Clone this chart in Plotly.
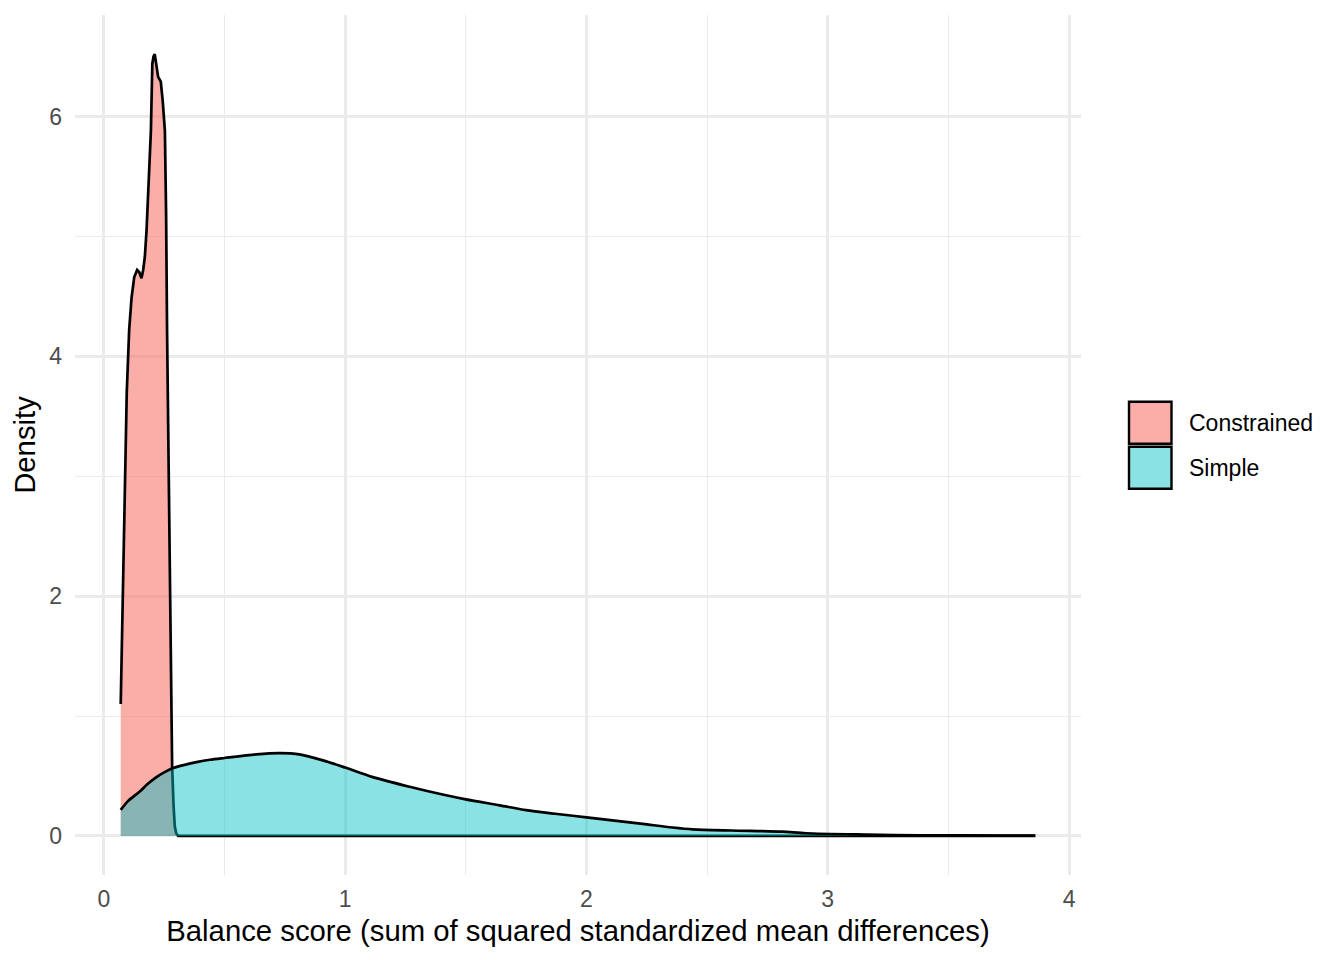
import plotly.graph_objects as go

# density curves (x = balance score, y = density)
constrained_x = [0.070, 0.074, 0.079, 0.087, 0.095, 0.105, 0.115, 0.126, 0.138, 0.147,
                 0.156, 0.163, 0.170, 0.177, 0.184, 0.195, 0.201, 0.206, 0.211, 0.216,
                 0.225, 0.236, 0.244, 0.253, 0.258, 0.262, 0.266, 0.270, 0.274, 0.278,
                 0.283, 0.289, 0.294, 0.300, 0.308, 0.320, 1.0, 2.0, 3.0, 3.86]
constrained_y = [1.10, 1.55, 1.97, 3.00, 3.70, 4.22, 4.49, 4.66, 4.72, 4.70,
                 4.65, 4.72, 4.83, 5.05, 5.33, 5.88, 6.44, 6.50, 6.52, 6.45,
                 6.33, 6.29, 6.13, 5.88, 5.20, 4.22, 3.60, 3.00, 2.00, 1.30,
                 0.58, 0.25, 0.08, 0.02, 0.0, 0.0, 0.0, 0.0, 0.0, 0.0]

simple_x = [0.07, 0.10, 0.149, 0.18, 0.218, 0.25, 0.28, 0.33, 0.384, 0.44, 0.5, 0.632, 0.729,
            0.81, 0.908, 1.0, 1.115, 1.267, 1.404, 1.5, 1.64, 1.75, 1.87, 2.0,
            2.233, 2.357, 2.44, 2.6, 2.81, 2.91, 3.16, 3.38, 3.72, 3.86]
simple_y = [0.217, 0.29, 0.37, 0.43, 0.49, 0.53, 0.56, 0.59, 0.615, 0.635, 0.65, 0.68, 0.69,
            0.68, 0.63, 0.57, 0.49, 0.41, 0.345, 0.305, 0.255, 0.215, 0.185, 0.155,
            0.10, 0.07, 0.055, 0.045, 0.036, 0.022, 0.011, 0.005, 0.003, 0.002]

groups = ["Constrained", "Simple"]
fills = ["rgba(248,118,109,0.6)", "rgba(0,191,196,0.46)"]
shapes = ["linear", "spline"]

FONT = "Liberation Sans, Arial, Helvetica, sans-serif"
GRID = "#EBEBEB"

# page body has an 8px margin, so the figure sits 8px in from the window edge
OFF = 8
W, H = 1344, 960
# panel in window pixels: x 75..1081, y 14.5..875
ML, MT = 75 - OFF, 14.5 - OFF
PW, PH = 1006, 860.5
MR = W - ML - PW
MB = H - MT - PH

fig = go.Figure()
for i, (xs, ys) in enumerate([(constrained_x, constrained_y), (simple_x, simple_y)]):
    fig.add_trace(go.Scatter(x=xs, y=ys, name=groups[i], mode="lines", fill="tozeroy",
                             fillcolor=fills[i],
                             line=dict(color="black", width=2.7, shape=shapes[i], smoothing=0.8),
                             showlegend=False, hoverinfo="skip"))

# ggplot-style 5% expansion
all_x = constrained_x + simple_x
all_y = constrained_y + simple_y
xspan = max(all_x) - min(all_x)
yspan = max(all_y) - min(all_y)
xr = [min(all_x) - 0.05 * xspan, max(all_x) + 0.05 * xspan]
yr = [min(all_y) - 0.05 * yspan, max(all_y) + 0.05 * yspan]

# legend drawn by hand so the keys get ggplot's big boxes (window px -> paper)
def px_x(p):
    return (p - 75) / PW

def px_y(p):
    return (875 - p) / PH

key_top = [401.5, 446.5]
for i, name in enumerate(groups):
    fig.add_shape(type="rect", xref="paper", yref="paper",
                  x0=px_x(1129), x1=px_x(1171.5),
                  y0=px_y(key_top[i]), y1=px_y(key_top[i] + 42),
                  fillcolor=fills[i], line=dict(color="black", width=2.4))
    fig.add_annotation(xref="paper", yref="paper", x=px_x(1187),
                       y=px_y(key_top[i] + 21), text=name, showarrow=False,
                       xanchor="left", yanchor="middle",
                       font=dict(family=FONT, size=23, color="black"))

fig.update_xaxes(range=xr, dtick=1, tick0=0, showgrid=True, gridcolor=GRID, gridwidth=2.6,
                 zeroline=False, showline=False, ticks="",
                 tickfont=dict(family=FONT, size=23, color="#4D4D4D"),
                 ticklabelstandoff=8,
                 minor=dict(dtick=0.5, tick0=0, showgrid=True, gridcolor=GRID, gridwidth=1.4),
                 title=dict(text="Balance score (sum of squared standardized mean differences)",
                            font=dict(family=FONT, size=29.3, color="black"), standoff=9))
fig.update_yaxes(range=yr, dtick=2, tick0=0, showgrid=True, gridcolor=GRID, gridwidth=2.6,
                 zeroline=False, showline=False, ticks="",
                 tickfont=dict(family=FONT, size=23, color="#4D4D4D"),
                 ticklabelstandoff=12,
                 minor=dict(dtick=1, tick0=0, showgrid=True, gridcolor=GRID, gridwidth=1.4),
                 title=dict(text="Density", font=dict(family=FONT, size=29.3, color="black"),
                            standoff=8))

fig.update_layout(width=W, height=H, plot_bgcolor="white", paper_bgcolor="white",
                  margin=dict(l=ML, r=MR, t=MT, b=MB, autoexpand=False),
                  font=dict(family=FONT))

fig.write_html("out.html")
